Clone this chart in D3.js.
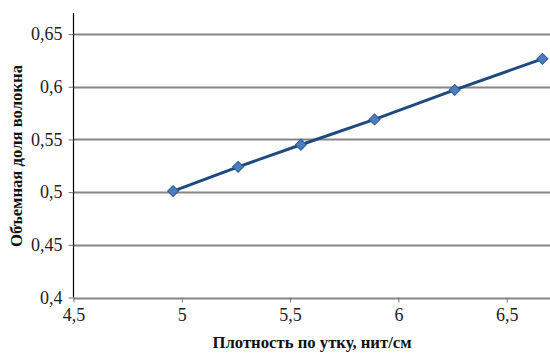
<!DOCTYPE html>
<html>
<head>
<meta charset="utf-8">
<script src="https://cdn.jsdelivr.net/npm/d3@7"></script>
<style>
  html, body { margin: 0; padding: 0; background: #fff; }
  svg { display: block; }
  svg text { font-family: "Liberation Serif", "Times New Roman", "DejaVu Serif", serif; }
</style>
</head>
<body>
<svg id="chart" width="550" height="354"></svg>
<script>
// Weft density (threads/cm) vs fibre volume fraction
const weftDensity = [4.96, 5.26, 5.55, 5.89, 6.26, 6.665];
const volumeFraction = [0.501, 0.524, 0.545, 0.569, 0.597, 0.6265];
const xTicks = [4.5, 5, 5.5, 6, 6.5];
const yTicks = [0.4, 0.45, 0.5, 0.55, 0.6, 0.65];
const xTitle = "Плотность по утку, нит/см";
const yTitle = "Объемная доля волокна";

const plotLeft = 73.5, plotRight = 550, plotTop = 13, plotBottom = 297.5;
const serif = '"Liberation Serif", "Times New Roman", "DejaVu Serif", serif';

const svg = d3.select("#chart");
const fmt = d => String(d).replace(".", ",");

const x = d3.scaleLinear().domain([4.5, 6.7]).range([plotLeft, plotRight]);
const y = d3.scaleLinear().domain([0.4, 0.67]).range([plotBottom, plotTop]);

// horizontal gridlines
svg.append("g")
  .selectAll("line")
  .data(yTicks)
  .join("line")
  .attr("x1", plotLeft).attr("x2", plotRight)
  .attr("y1", d => Math.round(y(d)) + 0.5).attr("y2", d => Math.round(y(d)) + 0.5)
  .attr("stroke", "#858585")
  .attr("stroke-width", 2);

// y axis
const yAxis = svg.append("g")
  .attr("transform", `translate(${plotLeft},0)`)
  .call(d3.axisLeft(y).tickValues(yTicks).tickFormat(fmt).tickSize(5).tickPadding(6));
yAxis.select(".domain").attr("stroke", "#000").attr("stroke-width", 1.2)
  .attr("d", `M0,${plotTop}V${plotBottom}`);
yAxis.selectAll(".tick line").attr("stroke", "#777");
yAxis.selectAll("text")
  .attr("font-family", serif)
  .attr("font-size", 18)
  .attr("fill", "#222");

// x axis
const xAxis = svg.append("g")
  .attr("transform", `translate(0,${plotBottom})`)
  .call(d3.axisBottom(x).tickValues(xTicks).tickFormat(fmt).tickSize(5).tickPadding(6));
xAxis.select(".domain").remove();
xAxis.selectAll(".tick line").attr("stroke", "#777");
xAxis.selectAll("text")
  .attr("font-family", serif)
  .attr("font-size", 18)
  .attr("fill", "#222");

// series line
const pts = weftDensity.map((d, i) => [d, volumeFraction[i]]);
svg.append("path")
  .datum(pts)
  .attr("fill", "none")
  .attr("stroke", "#1f4a7e")
  .attr("stroke-width", 3)
  .attr("d", d3.line().x(d => x(d[0])).y(d => y(d[1])));

// diamond markers
svg.append("g")
  .selectAll("path")
  .data(pts)
  .join("path")
  .attr("transform", d => `translate(${x(d[0])},${y(d[1])}) rotate(45)`)
  .attr("d", d3.symbol(d3.symbolSquare, 60)())
  .attr("fill", "#4a7ebf")
  .attr("stroke", "#2d5b94")
  .attr("stroke-width", 1);

// axis titles
svg.append("text")
  .attr("x", 312).attr("y", 348)
  .attr("text-anchor", "middle")
  .attr("font-family", serif)
  .attr("font-weight", "bold")
  .attr("font-size", 16.7)
  .attr("fill", "#111")
  .text(xTitle);

svg.append("text")
  .attr("transform", "translate(22,156) rotate(-90)")
  .attr("text-anchor", "middle")
  .attr("font-family", serif)
  .attr("font-weight", "bold")
  .attr("font-size", 16.7)
  .attr("fill", "#111")
  .text(yTitle);
</script>
</body>
</html>
